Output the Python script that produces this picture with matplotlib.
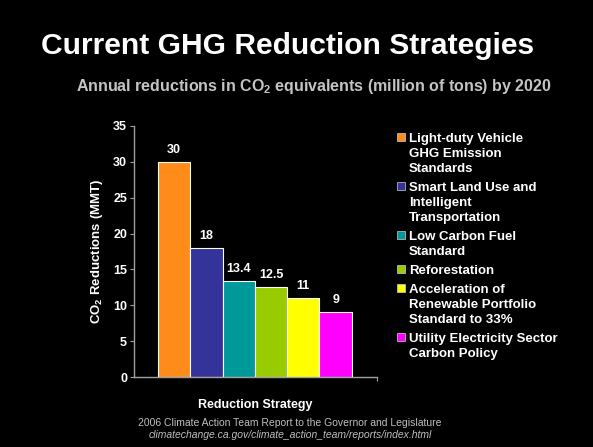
import matplotlib
matplotlib.use('Agg')
import matplotlib.pyplot as plt
from matplotlib.patches import Rectangle

plt.rcParams['font.family'] = ['Liberation Sans', 'DejaVu Sans']

# data
strategies = ['Light-duty Vehicle\nGHG Emission\nStandards',
              'Smart Land Use and\nIntelligent\nTransportation',
              'Low Carbon Fuel\nStandard',
              'Reforestation',
              'Acceleration of\nRenewable Portfolio\nStandard to 33%',
              'Utility Electricity Sector\nCarbon Policy']
reductions = [30, 18, 13.4, 12.5, 11, 9]
value_labels = ['30', '18', '13.4', '12.5', '11', '9']
bar_colors = ['#FF8C1A', '#333399', '#009999', '#99CC00', '#FFFF00', '#FF00FF']
yticks = [0, 5, 10, 15, 20, 25, 30, 35]

fig = plt.figure(figsize=(5.93, 4.47), dpi=100, facecolor='black')
ax = fig.add_axes([134/593, 1-377/447, 243/593, 251/447], facecolor='black')

xs = list(range(len(reductions)))
bars = ax.bar(xs, reductions, width=1.0, color=bar_colors, edgecolor='white', linewidth=0.8)
for b, lab in zip(bars, value_labels):
    ax.annotate(lab, (b.get_x() + b.get_width()/2, b.get_height()),
                xytext=(0, 4.5), textcoords='offset points', ha='center', va='bottom',
                color='white', fontsize=9, fontweight='bold')

ax.set_xlim(-1.24, 6.28)
ax.set_ylim(0, 35)
ax.set_yticks(yticks)
ax.set_xticks([6.28])
ax.set_xticklabels([])
ax.tick_params(axis='y', colors='#A0A0A0', labelcolor='white', labelsize=9, length=3, pad=2)
ax.tick_params(axis='x', colors='#A0A0A0', length=3)
for t in ax.get_yticklabels():
    t.set_fontweight('bold')
for s in ['top', 'right']:
    ax.spines[s].set_visible(False)
for s in ['left', 'bottom']:
    ax.spines[s].set_color('#A0A0A0')
    ax.spines[s].set_linewidth(1.0)

ax.set_ylabel('CO$_\\mathregular{2}$ Reductions (MMT)', color='white', fontsize=9.5,
              fontweight='bold', labelpad=6)
ax.set_xlabel('Reduction Strategy', color='white', fontsize=9, fontweight='bold', labelpad=9)

# titles
fig.text(288/593, 1-46/447, 'Current GHG Reduction Strategies', ha='center', va='center',
         color='white', fontsize=21.6, fontweight='bold')
fig.text(314/593, 1-87/447, 'Annual reductions in CO$_\\mathregular{2}$ equivalents (million of tons) by 2020',
         ha='center', va='center', color='#C4C4C4', fontsize=11.5, fontweight='bold')

# legend drawn by hand so the swatch sits on the first line
line_h = 15
gap = 4
y = 137
for lab, col in zip(strategies, bar_colors):
    fig.patches.append(Rectangle((397/593, 1-(y+4)/447), 8/593, 8/447, transform=fig.transFigure,
                                 facecolor=col, edgecolor='#D0D0D0', linewidth=0.5))
    fig.text(409/593, 1-(y-4)/447, lab, ha='left', va='top', color='white', fontsize=9.5,
             fontweight='bold', linespacing=1.33)
    y += line_h * (lab.count('\n') + 1) + gap

# source
fig.text(290/593, 1-423/447, '2006 Climate Action Team Report to the Governor and Legislature',
         ha='center', va='center', color='#BFBFBF', fontsize=7.5)
fig.text(290/593, 1-435/447, 'climatechange.ca.gov/climate_action_team/reports/index.html',
         ha='center', va='center', color='#BFBFBF', fontsize=7.5, style='italic')

fig.savefig('out.png', dpi=100, facecolor='black')
